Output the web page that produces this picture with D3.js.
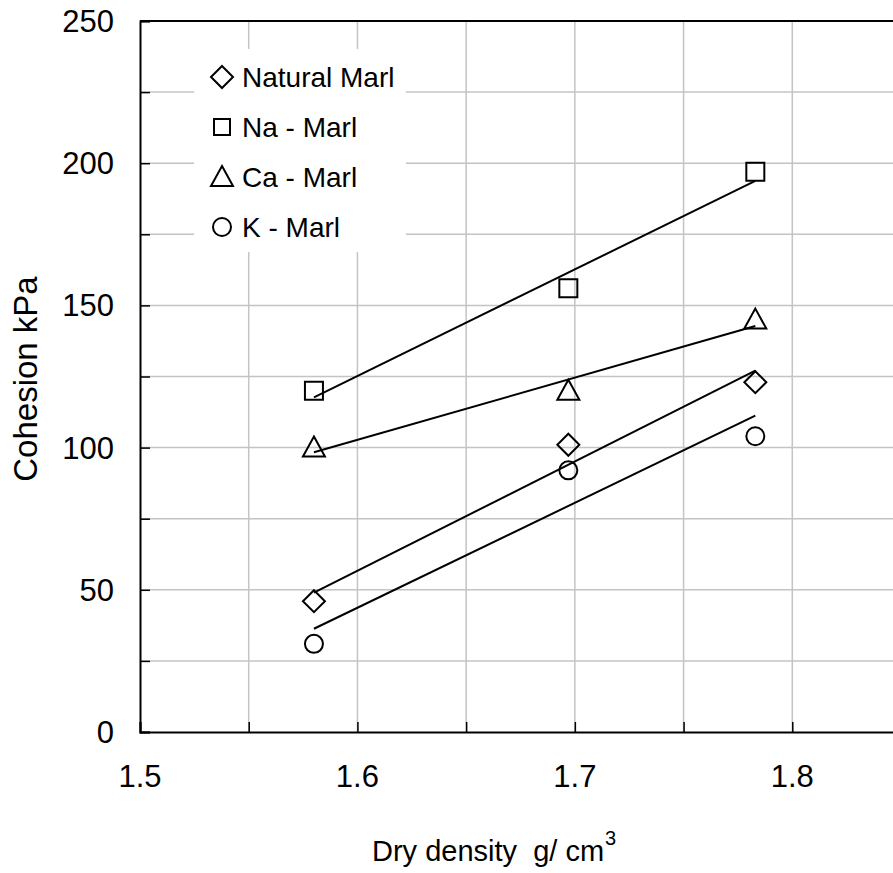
<!DOCTYPE html>
<html>
<head>
<meta charset="utf-8">
<script src="https://cdn.jsdelivr.net/npm/d3@7"></script>
<style>
  body { margin: 0; background: #fff; }
  svg { display: block; font-family: "Liberation Sans", Arial, sans-serif; }
</style>
</head>
<body>
<div id="chart"></div>
<script>
const dryDensity = [1.58, 1.697, 1.783];
const naturalMarl = [46, 101, 123];
const naMarl = [120, 156, 197];
const caMarl = [100, 120, 145];
const kMarl = [31, 92, 104];
const xTicks = [1.5, 1.6, 1.7, 1.8];
const yTicks = [0, 50, 100, 150, 200, 250];

const series = [
  { name: "Natural Marl", values: naturalMarl, symbol: "diamond" },
  { name: "Na - Marl", values: naMarl, symbol: "square" },
  { name: "Ca - Marl", values: caMarl, symbol: "triangle" },
  { name: "K - Marl", values: kMarl, symbol: "circle" }
];

const width = 893, height = 873;
const margin = { top: 21, right: -8, bottom: 141, left: 140 };

const svg = d3.select("#chart")
  .append("svg")
  .attr("width", width)
  .attr("height", height);

const x = d3.scaleLinear()
  .domain([1.5, 1.85])
  .range([margin.left, width - margin.right]);

const y = d3.scaleLinear()
  .domain([0, 250])
  .range([height - margin.bottom, margin.top]);

// grid
const xGrid = d3.range(1.55, 1.851, 0.05);
const yGrid = d3.range(25, 250, 25);

svg.append("g")
  .selectAll("line")
  .data(xGrid)
  .join("line")
  .attr("x1", d => x(d)).attr("x2", d => x(d))
  .attr("y1", y(0)).attr("y2", y(250))
  .attr("stroke", "#c4c4c4")
  .attr("stroke-width", 1.5);

svg.append("g")
  .selectAll("line")
  .data(yGrid)
  .join("line")
  .attr("x1", x(1.5)).attr("x2", x(1.85))
  .attr("y1", d => y(d)).attr("y2", d => y(d))
  .attr("stroke", "#c4c4c4")
  .attr("stroke-width", 1.5);

// axes (ticks inside)
svg.append("g")
  .attr("transform", `translate(0,${y(0)})`)
  .call(d3.axisBottom(x).tickValues(d3.range(1.5, 1.851, 0.05)).tickSize(-10).tickFormat(""))
  .call(g => g.select(".domain").attr("stroke-width", 2))
  .call(g => g.selectAll(".tick line").attr("stroke-width", 1.5));

svg.append("g")
  .attr("transform", `translate(${x(1.5)},0)`)
  .call(d3.axisLeft(y).tickValues(d3.range(0, 251, 25)).tickSize(-10).tickFormat(""))
  .call(g => g.select(".domain").attr("stroke-width", 2))
  .call(g => g.selectAll(".tick line").attr("stroke-width", 1.5));

svg.append("line")
  .attr("x1", x(1.5)).attr("x2", width)
  .attr("y1", y(250)).attr("y2", y(250))
  .attr("stroke", "#000")
  .attr("stroke-width", 2);

// tick labels
svg.append("g")
  .selectAll("text")
  .data(xTicks)
  .join("text")
  .attr("x", d => x(d))
  .attr("y", 787)
  .attr("text-anchor", "middle")
  .attr("font-size", 31)
  .text(d => d3.format(".1f")(d));

svg.append("g")
  .selectAll("text")
  .data(yTicks)
  .join("text")
  .attr("x", 114)
  .attr("y", d => y(d) + 11)
  .attr("text-anchor", "end")
  .attr("font-size", 31)
  .text(d => d);

// axis titles
const xTitle = svg.append("text")
  .attr("x", 372)
  .attr("y", 861)
  .attr("font-size", 29)
  .style("white-space", "pre");
xTitle.append("tspan").text("Dry density  g/ cm");
xTitle.append("tspan")
  .attr("font-size", 20)
  .attr("dx", 1)
  .attr("dy", -16)
  .text("3");

svg.append("text")
  .attr("transform", `translate(37,379) rotate(-90)`)
  .attr("text-anchor", "middle")
  .attr("font-size", 33)
  .text("Cohesion kPa");

// legend box
svg.append("rect")
  .attr("x", 194).attr("y", 49)
  .attr("width", 212).attr("height", 203)
  .attr("fill", "#fff");

function symbolPath(type) {
  if (type === "diamond") return "M0,-11L11,0L0,11L-11,0Z";
  if (type === "square") return "M-9,-9H9V9H-9Z";
  if (type === "triangle") return "M0,-11L11,9H-11Z";
  return d3.arc()({ innerRadius: 0, outerRadius: 9, startAngle: 0, endAngle: 2 * Math.PI });
}

// trend lines (least squares)
function fit(xs, ys) {
  const mx = d3.mean(xs), my = d3.mean(ys);
  const sxy = d3.sum(xs, (v, i) => (v - mx) * (ys[i] - my));
  const sxx = d3.sum(xs, v => (v - mx) * (v - mx));
  const b = sxy / sxx;
  return v => my + b * (v - mx);
}

const line = d3.line()
  .x(d => x(d[0]))
  .y(d => y(d[1]));

series.forEach(s => {
  const f = fit(dryDensity, s.values);
  const ends = d3.extent(dryDensity);
  svg.append("path")
    .datum(ends.map(v => [v, f(v)]))
    .attr("d", line)
    .attr("fill", "none")
    .attr("stroke", "#000")
    .attr("stroke-width", 2);
});

series.forEach(s => {
  svg.append("g")
    .selectAll("path")
    .data(s.values)
    .join("path")
    .attr("transform", (d, i) => `translate(${x(dryDensity[i])},${y(d)})`)
    .attr("d", symbolPath(s.symbol))
    .attr("fill", "none")
    .attr("stroke", "#000")
    .attr("stroke-width", 2);
});

// legend entries
const legend = svg.append("g")
  .selectAll("g")
  .data(series)
  .join("g")
  .attr("transform", (d, i) => `translate(222,${77 + i * 50})`);

legend.append("path")
  .attr("d", d => d.symbol === "square" ? "M-8,-8H8V8H-8Z" : symbolPath(d.symbol))
  .attr("fill", "none")
  .attr("stroke", "#000")
  .attr("stroke-width", 2);

legend.append("text")
  .attr("x", 20)
  .attr("y", 10)
  .attr("font-size", 28)
  .text(d => d.name);
</script>
</body>
</html>
